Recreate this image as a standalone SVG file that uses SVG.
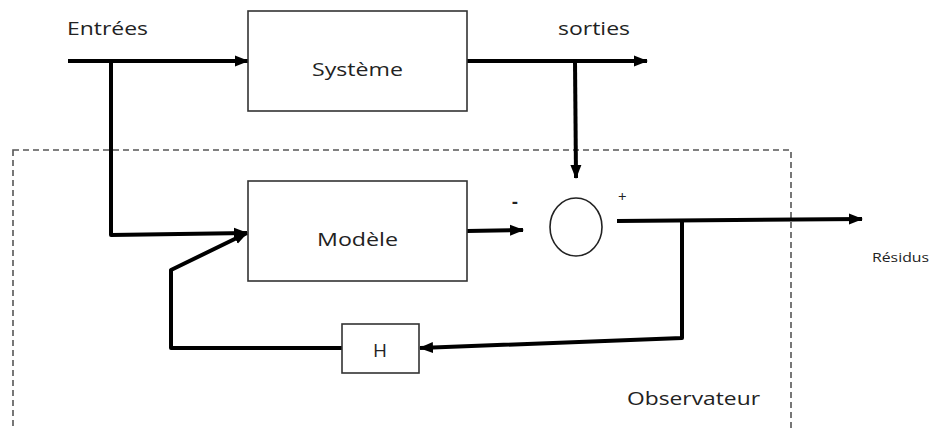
<svg xmlns="http://www.w3.org/2000/svg" width="932" height="430" viewBox="0 0 932 430">
<style>
.box{fill:#fff;stroke:#333;stroke-width:1.6}
.wire{fill:none;stroke:#000;stroke-width:4;stroke-linejoin:round}
.lbl{font-family:"Open Sans","Liberation Sans",sans-serif;font-size:19px;fill:#222}
.sm{font-family:"Open Sans","Liberation Sans",sans-serif;font-size:13px;fill:#222}
</style>
<defs>
<marker id="ah" markerUnits="userSpaceOnUse" markerWidth="14" markerHeight="14" viewBox="0 0 14 14" refX="13" refY="7" orient="auto">
<path d="M0,1.5 L14,7 L0,12.5 Z" fill="#000"/>
</marker>
</defs>
<g id="observateur">
<rect x="13" y="150" width="778" height="300" fill="none" stroke="#555" stroke-width="1.6" stroke-dasharray="6,4"/>
<text class="lbl" x="627" y="405" textLength="133" lengthAdjust="spacingAndGlyphs">Observateur</text>
</g>
<g id="connectors">
<path class="wire" d="M68,61 L248,61" marker-end="url(#ah)"/>
<path class="wire" d="M111,61 L111,235 L247,233" marker-end="url(#ah)"/>
<path class="wire" d="M467,61 L647,61" marker-end="url(#ah)"/>
<path class="wire" d="M575,61 L576,178" marker-end="url(#ah)"/>
<path class="wire" d="M467,231 L523,230" marker-end="url(#ah)"/>
<path class="wire" d="M617,221 L862,219" marker-end="url(#ah)"/>
<path class="wire" d="M682,220 L682,338 L420,348" marker-end="url(#ah)"/>
<path class="wire" d="M342,348 L171,348 L171,270 L247,233" marker-end="url(#ah)"/>
</g>
<g id="entrees"><text class="lbl" x="67" y="35" textLength="81" lengthAdjust="spacingAndGlyphs">Entrées</text></g>
<g id="sorties"><text class="lbl" x="558" y="35" textLength="72" lengthAdjust="spacingAndGlyphs">sorties</text></g>
<g id="systeme">
<rect class="box" x="248" y="11" width="219" height="100"/>
<text class="lbl" x="312" y="76" textLength="91" lengthAdjust="spacingAndGlyphs">Système</text>
</g>
<g id="modele">
<rect class="box" x="248" y="181" width="219" height="100"/>
<text class="lbl" x="317" y="246" textLength="81" lengthAdjust="spacingAndGlyphs">Modèle</text>
</g>
<g id="comparateur">
<ellipse cx="576" cy="227" rx="26" ry="29" fill="#fff" stroke="#222" stroke-width="1.6"/>
<text class="lbl" x="512" y="208" style="font-size:18px;font-weight:bold">-</text>
<text class="lbl" x="618" y="202" style="font-size:15px">+</text>
</g>
<g id="h">
<rect class="box" x="342" y="324" width="77" height="49"/>
<text class="lbl" x="380" y="357" text-anchor="middle" style="font-size:19px">H</text>
</g>
<g id="residus"><text class="sm" x="872" y="262" textLength="57" lengthAdjust="spacingAndGlyphs">Résidus</text></g>
</svg>
